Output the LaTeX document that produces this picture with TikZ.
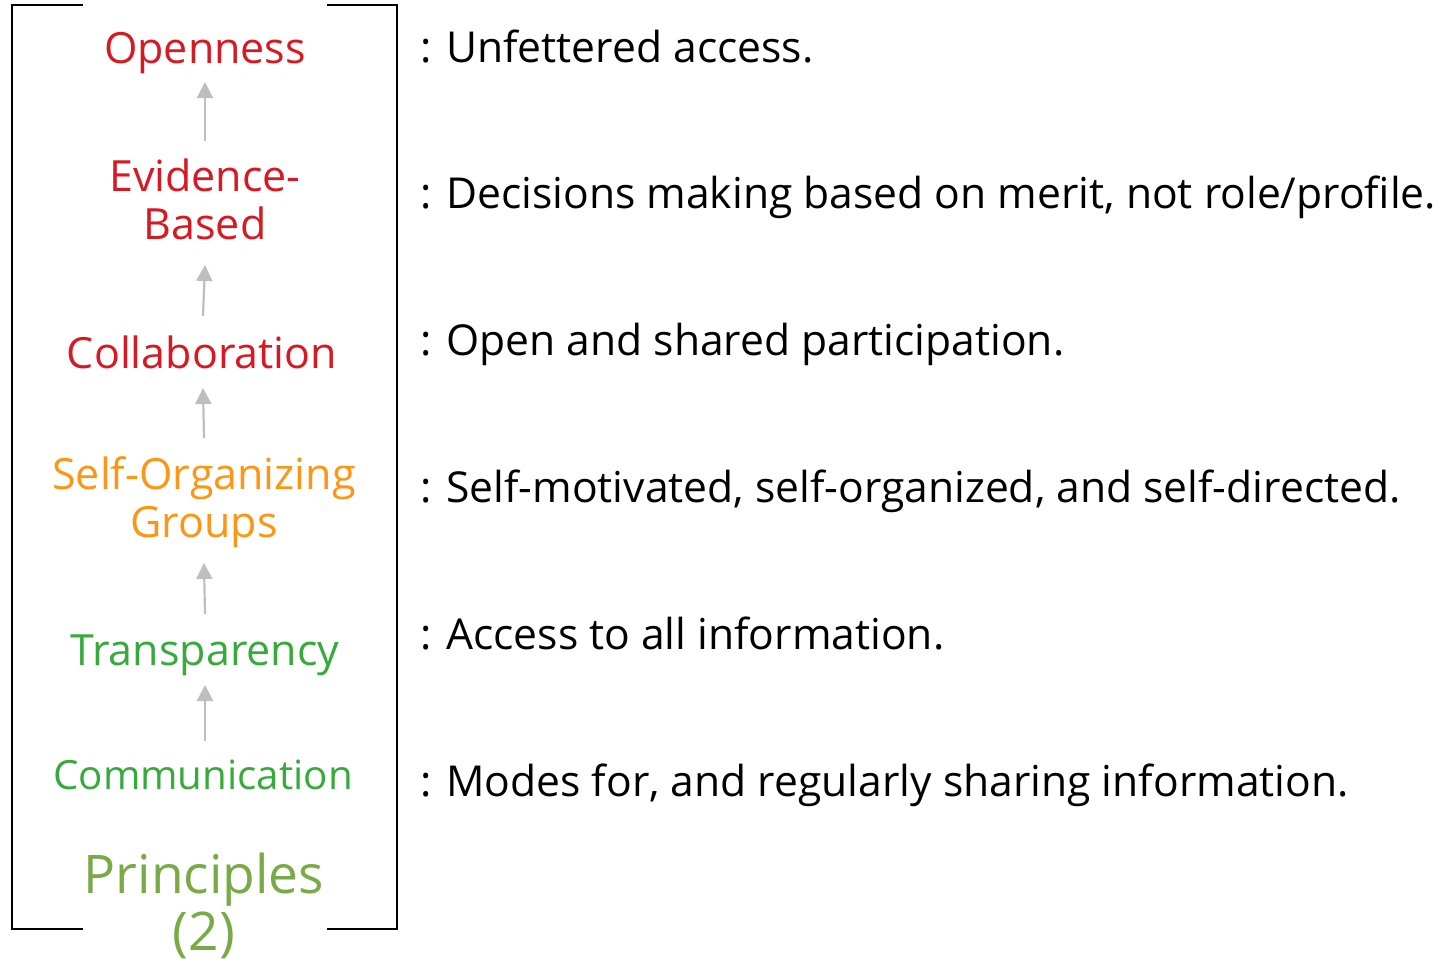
\documentclass[tikz,border=0pt]{standalone}
\usepackage{fontspec}
\setmainfont{Open Sans}
\usetikzlibrary{arrows.meta}
\definecolor{cred}{RGB}{215,25,35}
\definecolor{corange}{RGB}{252,150,20}
\definecolor{cgreen}{RGB}{55,170,60}
\definecolor{cprin}{RGB}{122,170,72}
\definecolor{carrow}{RGB}{190,190,190}
\tikzset{
  lbl/.style={inner sep=0pt, align=center, font=\fontsize{43}{48}\selectfont, anchor=base},
  desc/.style={inner sep=0pt, anchor=base west, font=\fontsize{42.6}{48}\selectfont, text=black},
  arr/.style={draw=carrow, line width=2.2pt, -{Triangle[length=16pt,width=16pt]}},
  brk/.style={draw=black, line width=2pt, line cap=rect}
}
\begin{document}
\begin{tikzpicture}[x=1pt,y=-1pt]
\useasboundingbox (0,0) rectangle (1449,964);
% bracket
\draw[brk] (82,5) -- (12,5) -- (12,929) -- (82,929);
\draw[brk] (328,5) -- (397,5) -- (397,929) -- (328,929);
% left labels
\node[lbl, text=cred] (op) at (205,63) {Openness};
\node[lbl, text=cred] (ev) at (205,239) {Evidence-\\Based};
\node[lbl, text=cred] (co) at (202,368) {Collaboration};
\node[lbl, text=corange] (so) at (204,537) {Self-Organizing\\Groups};
\node[lbl, text=cgreen] (tr) at (205,665) {Transparency};
\node[lbl, text=cgreen, font=\fontsize{40.3}{48}\selectfont] (cm) at (203,789) {Communication};
\node[lbl, text=cprin, font=\fontsize{53.3}{57}\selectfont] (pr) at (204,950) {Principles\\(2)};
% arrow end points
\coordinate (a1s) at (205,141); \coordinate (a1e) at (205,82);
\coordinate (a2s) at (203,316); \coordinate (a2e) at (205,265);
\coordinate (a3s) at (204,438); \coordinate (a3e) at (203,388);
\coordinate (a4s) at (205,614); \coordinate (a4e) at (204,563);
\coordinate (a5s) at (205,741); \coordinate (a5e) at (205,685);
\draw[arr] (a1s) -- (a1e);
\draw[arr] (a2s) -- (a2e);
\draw[arr] (a3s) -- (a3e);
\draw[arr] (a4s) -- (a4e);
\draw[arr] (a5s) -- (a5e);
% descriptions
\node[desc] (d1) at (420,62) {: Unfettered access.};
\node[desc] (d2) at (420,208) {: Decisions making based on merit, not role/profile.};
\node[desc] (d3) at (420,355) {: Open and shared participation.};
\node[desc] (d4) at (420,502) {: Self-motivated, self-organized, and self-directed.};
\node[desc] (d5) at (420,649) {: Access to all information.};
\node[desc] (d6) at (420,796) {: Modes for, and regularly sharing information.};
\end{tikzpicture}
\end{document}
